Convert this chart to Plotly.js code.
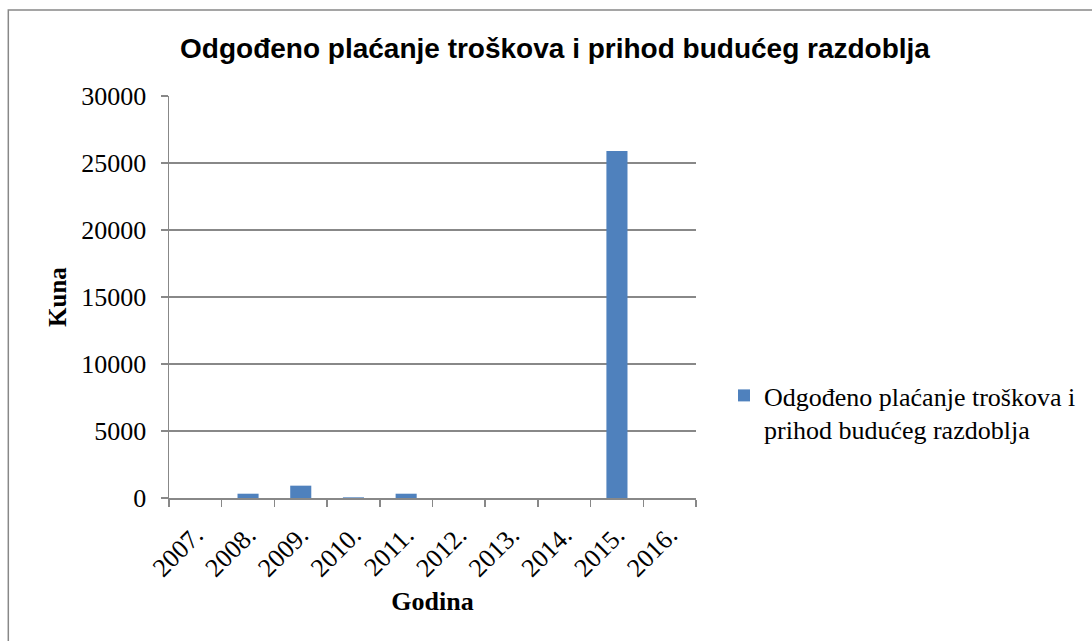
<!DOCTYPE html>
<html>
<head>
<meta charset="utf-8">
<script src="https://cdn.plot.ly/plotly-3.0.1.min.js"></script>
<style>html,body{margin:0;padding:0;background:#fff;}#chart{width:1092px;height:641px;}</style>
</head>
<body>
<div id="chart"></div>
<script>
const years = ["2007.", "2008.", "2009.", "2010.", "2011.", "2012.", "2013.", "2014.", "2015.", "2016."];
const values = [0, 320, 920, 50, 320, 0, 0, 0, 25900, 0];
const seriesName = "Odgođeno plaćanje troškova i<br>prihod budućeg razdoblja";
const chartTitle = "Odgođeno plaćanje troškova i prihod budućeg razdoblja";
const xTitle = "Godina";
const yTitle = "Kuna";

const L = 169, R = 1092 - 697, T = 96, B = 641 - 498;
const pw = 1092 - L - R, ph = 641 - T - B;

const data = [{
  type: "bar",
  x: years,
  y: values,
  name: seriesName,
  marker: {color: "#4F81BD"},
  showlegend: true
}];

const layout = {
  width: 1092, height: 641,
  margin: {l: L, r: R, t: T, b: B, pad: 0},
  paper_bgcolor: "#fff", plot_bgcolor: "#fff",
  bargap: 0.6,
  title: {text: chartTitle, font: {family: "Liberation Sans", size: 28, color: "#000", weight: "bold"},
          x: 555/1092, xanchor: "center", y: 1 - 48/641, yanchor: "middle", xref: "container", yref: "container"},
  xaxis: {
    type: "category",
    tickson: "boundaries",
    ticks: "outside", ticklen: 7, tickcolor: "#888", tickwidth: 1.5,
    showline: true, linecolor: "#888", linewidth: 1.5,
    showgrid: false,
    tickangle: -45,
    ticklabelstandoff: 10,
    tickfont: {family: "Liberation Serif", size: 26, color: "#000"},
    title: {text: xTitle, font: {family: "Liberation Serif", size: 26, color: "#000", weight: "bold"}, standoff: 10},
    automargin: false
  },
  yaxis: {
    range: [0, 30000], dtick: 5000, tickformat: "d",
    ticks: "outside", ticklen: 7, tickcolor: "#888", tickwidth: 1.5,
    showline: true, linecolor: "#888", linewidth: 1.5,
    showgrid: true, gridcolor: "#888", gridwidth: 1.5,
    zeroline: false,
    ticklabelstandoff: 9,
    tickfont: {family: "Liberation Serif", size: 26, color: "#000"},
    title: {text: yTitle, font: {family: "Liberation Serif", size: 25, color: "#000", weight: "bold"}, standoff: 7},
    automargin: false
  },
  showlegend: true,
  legend: {x: (724 - L)/pw, xanchor: "left", y: (498 - 372)/ph, yanchor: "top", valign: "top",
           font: {family: "Liberation Serif", size: 26, color: "#000"}, bgcolor: "rgba(0,0,0,0)"},
  shapes: [{type: "rect", xref: "paper", yref: "paper",
            x0: (8 - L)/pw, x1: 2, y0: -1, y1: 1 + (T - 10)/ph,
            line: {color: "#888", width: 1.5}, fillcolor: "rgba(0,0,0,0)", layer: "below"}]
};

Plotly.newPlot("chart", data, layout, {displayModeBar: false, staticPlot: true});
</script>
</body>
</html>
